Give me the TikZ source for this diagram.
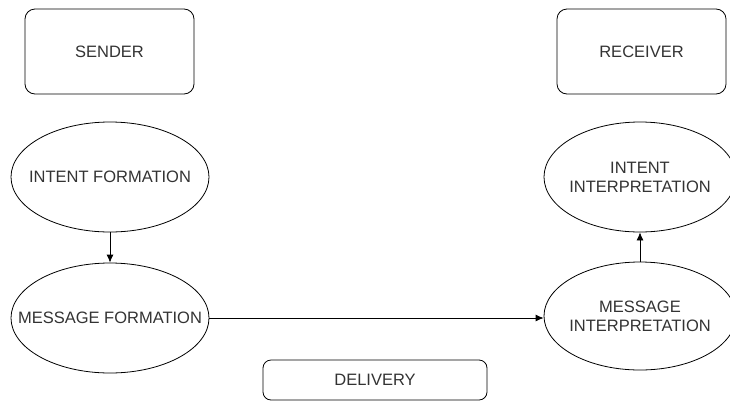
\documentclass[tikz,border=0pt]{standalone}
\usepackage{fontspec}
\setmainfont{Liberation Sans}
\usetikzlibrary{shapes.geometric, arrows.meta}

\tikzset{
  label box/.style={draw, rounded corners=10pt, minimum width=169pt, minimum height=85pt, inner sep=0pt},
  stage/.style={draw, ellipse, minimum width=198pt, minimum height=110pt, inner sep=0pt},
  stage text/.style={label={[align=center]center:{#1}}},
  flow/.style={-{Latex[length=8pt, width=7pt]}},
}

\begin{document}
\begin{tikzpicture}[x=1pt, y=-1pt, font=\fontsize{16.5}{19}\selectfont, text=black!80, line width=0.8pt]
        \useasboundingbox (0,0) rectangle (730,402);

        % 两端
        \node[label box] (sender) at (109.5,51.5) {SENDER};
        \node[label box] (receiver) at (641.5,51.5) {RECEIVER};

        % 发送方
        \node[stage, stage text={INTENT FORMATION}] (intentF) at (110,177) {};
        \node[stage, stage text={MESSAGE FORMATION}] (messageF) at (110,318) {};

        % 接收方
        \node[stage, minimum width=192pt, stage text={INTENT\\INTERPRETATION}] (intentI) at (640,177) {};
        \node[stage, minimum width=192pt, minimum height=108pt, stage text={MESSAGE\\INTERPRETATION}] (messageI) at (640,316) {};

        \node[label box, minimum width=224pt, minimum height=40pt, rounded corners=8pt] (delivery) at (375,380) {DELIVERY};

        \draw[flow] (intentF) -- (messageF);
        \draw[flow] (messageF.east) -- (messageF.east -| messageI.west);
        \draw[flow] (messageI) -- (intentI);
    \end{tikzpicture}
\end{document}
